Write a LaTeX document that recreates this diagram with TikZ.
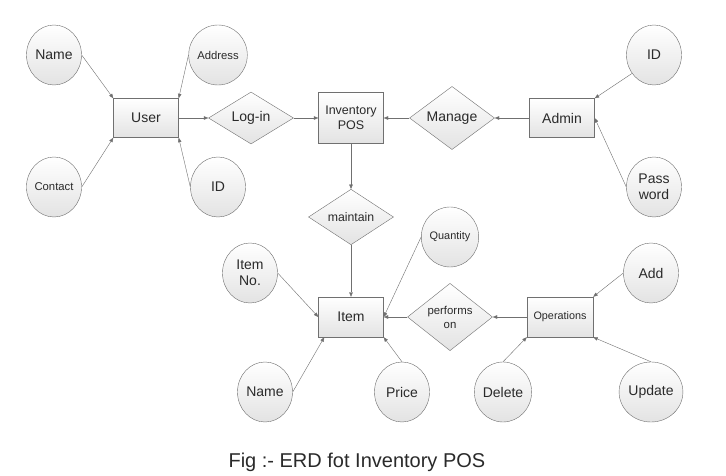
\documentclass[tikz,border=0pt]{standalone}
\usepackage{fontspec}
\setmainfont{Liberation Sans}
\usetikzlibrary{arrows.meta}
\usetikzlibrary{positioning}
\usetikzlibrary{shapes.geometric}
\definecolor{edgegray}{HTML}{707070}
\definecolor{textgray}{HTML}{2A2A2A}
\begin{document}
\begin{tikzpicture}[x=1pt,y=-1pt,-{Triangle[length=4.5pt,width=3.5pt]},>=Triangle]
	\tikzset{shapebase/.style = {draw=edgegray, thin, top color=white, bottom color=gray!22, text=textgray, inner sep=0pt, align=center, font=\fontsize{14}{15}\selectfont}}
	\tikzset{attrib/.style = {shapebase, shape=ellipse, minimum width=55pt, minimum height=60pt}}
	\tikzset{entity/.style = {shapebase, shape=rectangle, minimum width=65pt, minimum height=39pt}}
	\tikzset{relation/.style = {shapebase, shape=diamond, minimum width=85pt, minimum height=51pt}}
	\tikzset{link/.style = {draw=edgegray, thin}}
	\tikzset{small/.style = {font=\fontsize{11.3}{12}\selectfont}}
	\useasboundingbox[fill=white] (0,0) rectangle (726,476);
	
	% user side
	\node[entity] (USER) at (146,118) {User};
	\node[attrib] (UNAME) at (54,55) {Name};
	\node[attrib, small] (UADDR) at (218,55) {Address};
	\node[attrib, small] (UCONT) at (54,187) {Contact};
	\node[attrib] (UID) at (218,187) {ID};
	\node[relation] (LOGIN) at (251,118) {Log-in};
	
	% system
	\node[entity, minimum height=51pt, font=\fontsize{12.5}{15}\selectfont] (INV) at (351,118) {Inventory\\POS};
	\node[relation] (MANAGE) at (452,118) {Manage};
	\node[entity] (ADMIN) at (562,118) {Admin};
	\node[attrib] (AID) at (654,55) {ID};
	\node[attrib, font=\fontsize{14}{16}\selectfont] (APASS) at (654,187) {Pass\\word};
	
	% items
	\node[relation, minimum height=50pt, font=\fontsize{12.3}{13}\selectfont] (MAINT) at (351,217) {maintain};
	\node[entity, minimum height=40pt] (ITEM) at (351,317) {Item};
	\node[attrib, font=\fontsize{14}{16}\selectfont] (INO) at (250,273) {Item\\No.};
	\node[attrib, font=\fontsize{10.9}{12}\selectfont] (IQTY) at (450,237) {Quantity};
	\node[attrib] (INAME) at (265,392) {Name};
	\node[attrib] (IPRICE) at (402,392) {Price};
	\node[relation, minimum height=50pt, font=\fontsize{11.4}{14}\selectfont] (PERF) at (450,317) {performs\\on};
	\node[entity, minimum width=66pt, minimum height=40pt, font=\fontsize{10.8}{12}\selectfont] (OPER) at (560,317) {Operations};
	\node[attrib] (OADD) at (651,273) {Add};
	\node[attrib] (ODEL) at (503,392) {Delete};
	\node[attrib] (OUPD) at (651,392) {Update};
	
	% connectors
	\draw[link] (UNAME.east) -- (USER.north west);
	\draw[link] (UADDR.west) -- (USER.north east);
	\draw[link] (UCONT.east) -- (USER.south west);
	\draw[link] (UID.west) -- (USER.south east);
	\draw[link] (USER.east) -- (LOGIN.west);
	\draw[link] (LOGIN.east) -- (INV.west);
	\draw[link] (ADMIN.west) -- (MANAGE.east);
	\draw[link] (MANAGE.west) -- (INV.east);
	\draw[link] (AID.-140) -- (ADMIN.north east);
	\draw[link] (APASS.west) -- (ADMIN.east);
	\draw[link] (INV.south) -- (MAINT.north);
	\draw[link] (MAINT.south) -- (ITEM.north);
	\draw[link] (INO.east) -- (ITEM.west);
	\draw[link] (IQTY.west) -- (ITEM.east);
	\draw[link] (INAME.east) -- ([xshift=6pt]ITEM.south west);
	\draw[link] (IPRICE.north) -- (ITEM.south east);
	\draw[link] (PERF.west) -- (ITEM.east);
	\draw[link] (OPER.west) -- (PERF.east);
	\draw[link] (OADD.west) -- (OPER.north east);
	\draw[link] (ODEL.north) -- (OPER.south west);
	\draw[link] (OUPD.north) -- (OPER.south east);
	
	\node[-, text=textgray, font=\fontsize{20}{22}\selectfont, anchor=base west] (CAPTION) at (225,467) {Fig :- ERD fot Inventory POS};
\end{tikzpicture}
\end{document}
